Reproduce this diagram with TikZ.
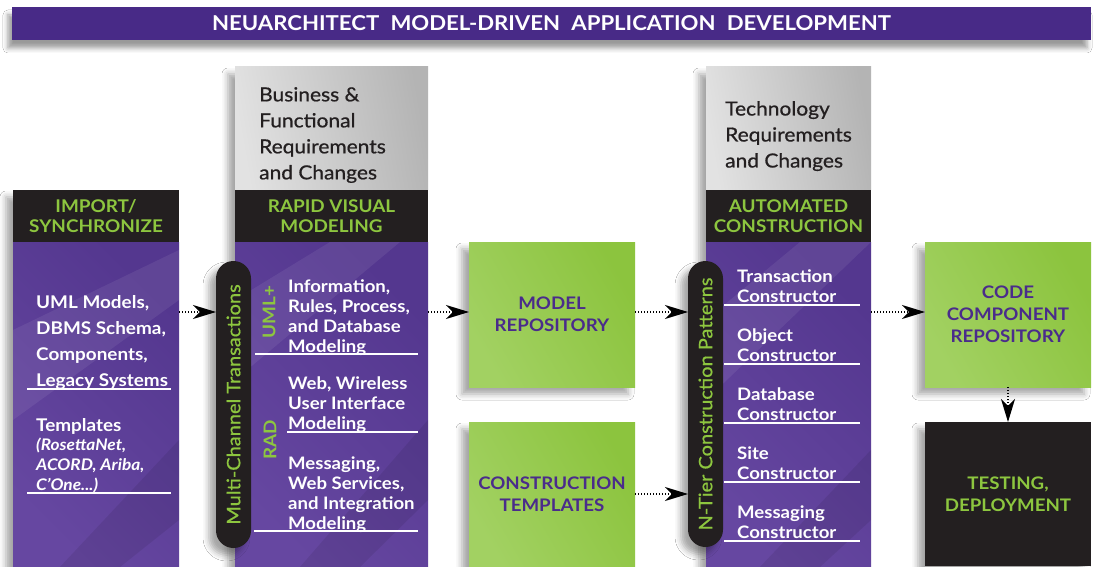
\documentclass[tikz,border=0pt]{standalone}
\usepackage{fontspec}
\setmainfont{Lato}[FakeStretch=1.08]
\newfontfamily\latomed{Lato}[FakeStretch=1.08,FakeBold=0.7]
\usetikzlibrary{arrows.meta,shadows.blur}
\definecolor{ttlpurple}{HTML}{482A87}
\definecolor{purpA}{HTML}{6647A1}
\definecolor{purpB}{HTML}{54378F}
\definecolor{hdblack}{HTML}{231F20}
\definecolor{lgreen}{HTML}{8DC63F}
\definecolor{greenA}{HTML}{A2D162}
\definecolor{greenB}{HTML}{8CC43E}
\definecolor{txtpurple}{HTML}{4A2C8B}
\definecolor{grayA}{HTML}{E2E2E2}
\definecolor{grayB}{HTML}{B4B4B4}
\tikzset{
  box/.style={rectangle,inner sep=0pt,outer sep=0pt,anchor=north west,align=center},
  headbox/.style={box,fill=hdblack,text=lgreen,font=\fontsize{17.5}{20.5}\selectfont\bfseries},
  bodybox/.style={box,left color=purpA,right color=purpB,shading angle=135},
  greybox/.style={box,left color=grayA,right color=grayB,shading angle=100},
  greenbox/.style={box,left color=greenA,right color=greenB,shading angle=120,text=txtpurple,
    font=\fontsize{17.3}{22}\selectfont\bfseries,dropsh},
  blackbox/.style={box,fill=hdblack,text=lgreen,font=\fontsize{17.3}{22}\selectfont\bfseries,dropsh},
  dropsh/.style={blur shadow={shadow xshift=-7pt,shadow yshift=-7pt,shadow blur radius=6pt,shadow opacity=35}},
  titlesh/.style={blur shadow={shadow xshift=-4pt,shadow yshift=-8pt,shadow blur radius=5pt,shadow opacity=40}},
  pill/.style={rectangle,anchor=north west,inner sep=0pt,outer sep=0pt,rounded corners=17.5pt,fill=hdblack,dropsh},
  pilltext/.style={text=lgreen,inner sep=0pt,font=\fontsize{18.5}{20}\latomed},
  sidelbl/.style={text=lgreen,inner sep=0pt,font=\fontsize{17.5}{20}\selectfont\bfseries},
  wtxtA/.style={text=white,inner sep=0pt,anchor=north west,align=left,font=\fontsize{17.5}{26}\selectfont\bfseries},
  wtxtI/.style={text=white,inner sep=0pt,anchor=north west,align=left,font=\fontsize{16}{20}\selectfont\bfseries\itshape},
  wtxtB/.style={text=white,inner sep=0pt,anchor=north west,align=left,font=\fontsize{17.2}{20}\selectfont\bfseries},
  gtxt/.style={text=hdblack,inner sep=0pt,anchor=north west,align=left,font=\fontsize{19.4}{26}\latomed},
  uline/.style={white,line width=1.3pt},
  lightband/.style={white,opacity=0.07},
  darkband/.style={black,opacity=0.08},
  conn/.style={draw=black,line width=1.5pt,dash pattern=on 1.2pt off 1.8pt,
    -{Stealth[length=23pt,width=14pt,inset=7pt]}},
}
\begin{document}
\begin{tikzpicture}[x=1pt,y=-1pt]
\useasboundingbox (0,0) rectangle (1096,567);
\fill[white] (0,0) rectangle (1096,567);

% title
\node[box,fill=ttlpurple,minimum width=1079pt,minimum height=33pt,text=white,
  font=\fontsize{20.5}{24}\selectfont\bfseries,titlesh] (title) at (12,7)
  {NEUARCHITECT\hspace{.55em}MODEL-DRIVEN\hspace{.55em}APPLICATION\hspace{.55em}DEVELOPMENT};

% column shadows
\fill[white,dropsh] (13,190) rectangle (179,567);
\fill[white,dropsh] (235,67) rectangle (428,567);
\fill[white,dropsh] (706,67) rectangle (871,567);

% left column
\node[headbox,minimum width=166pt,minimum height=52pt] (imphead) at (13,190) {IMPORT/\\SYNCHRONIZE};
\node[bodybox,minimum width=166pt,minimum height=325pt] (impbody) at (13,242) {};

% rapid visual modeling column
\node[greybox,minimum width=193pt,minimum height=123pt] (bizreq) at (235,67) {};
\node[headbox,minimum width=193pt,minimum height=52pt] (rapidhead) at (235,190) {RAPID VISUAL\\MODELING};
\node[bodybox,minimum width=193pt,minimum height=325pt] (rapidbody) at (235,242) {};

% automated construction column
\node[greybox,minimum width=165pt,minimum height=123pt] (techreq) at (706,67) {};
\node[headbox,minimum width=165pt,minimum height=52pt] (autohead) at (706,190) {AUTOMATED\\CONSTRUCTION};
\node[bodybox,minimum width=165pt,minimum height=325pt] (autobody) at (706,242) {};

% subtle diagonal texture in the purple bodies
\begin{scope}
  \clip (impbody.north west) rectangle (impbody.south east);
  \fill[lightband] (13,330) -- (179,250) -- (179,300) -- (13,420) -- cycle;
  \fill[darkband] (60,567) -- (179,440) -- (179,520) -- (120,567) -- cycle;
\end{scope}
\begin{scope}
  \clip (rapidbody.north west) rectangle (rapidbody.south east);
  \fill[lightband] (235,300) -- (330,242) -- (400,242) -- (235,380) -- cycle;
  \fill[darkband] (300,567) -- (428,420) -- (428,500) -- (360,567) -- cycle;
\end{scope}
\begin{scope}
  \clip (autobody.north west) rectangle (autobody.south east);
  \fill[lightband] (706,320) -- (800,242) -- (871,242) -- (706,400) -- cycle;
  \fill[darkband] (760,567) -- (871,450) -- (871,520) -- (820,567) -- cycle;
\end{scope}

% green / black boxes
\node[greenbox,minimum width=166pt,minimum height=145pt] (modrepo) at (469,242) {MODEL\\REPOSITORY};
\node[greenbox,minimum width=166pt,minimum height=145pt] (ctemp) at (469,422) {CONSTRUCTION\\TEMPLATES};
\node[greenbox,minimum width=166pt,minimum height=145pt] (coderepo) at (925,242) {CODE\\COMPONENT\\REPOSITORY};
\node[blackbox,minimum width=166pt,minimum height=144pt] (testing) at (925,422) {TESTING,\\DEPLOYMENT};

% grey requirement texts
\node[gtxt] (biztxt) at (259,87) {Business \&\\Functional\\Requirements\\and Changes};
\node[gtxt] (techtxt) at (725,101) {Technology\\Requirements\\and Changes};

% left column texts
\node[wtxtA] (impA) at (36,295) {UML Models,\\DBMS Schema,\\Components,\\Legacy Systems};
\draw[uline] (27,389) -- (171,389);
\node[wtxtA] (impB) at (36,418) {Templates};
\node[wtxtI] (impC) at (36,438) {(RosettaNet,\\ACORD, Ariba,\\C’One...)};
\draw[uline] (27,493) -- (171,493);

% rapid texts
\node[wtxtB] (rapA) at (288,280) {Information,\\Rules, Process,\\and Database\\Modeling};
\draw[uline] (255,354) -- (418,354);
\node[wtxtB] (rapB) at (288,377) {Web, Wireless\\User Interface\\Modeling};
\draw[uline] (287,432) -- (418,432);
\node[wtxtB] (rapC) at (288,457) {Messaging,\\Web Services,\\and Integration\\Modeling};
\draw[uline] (254,531) -- (418,531);
\node[sidelbl,rotate=90] (umlp) at (269,312) {UML+};
\node[sidelbl,rotate=90] (rad) at (270,440) {RAD};

% automated texts
\node[wtxtB] (autA) at (737,270) {Transaction\\Constructor};
\draw[uline] (724,305) -- (860,305);
\node[wtxtB] (autB) at (737,329) {Object\\Constructor};
\draw[uline] (724,364) -- (860,364);
\node[wtxtB] (autC) at (737,388) {Database\\Constructor};
\draw[uline] (724,423) -- (860,423);
\node[wtxtB] (autD) at (737,447) {Site\\Constructor};
\draw[uline] (724,482) -- (860,482);
\node[wtxtB] (autE) at (737,506) {Messaging\\Constructor};
\draw[uline] (724,541) -- (860,541);

% pills
\node[pill,minimum width=35pt,minimum height=287pt] (mct) at (216,261) {};
\node[pilltext,rotate=90] (mcttxt) at (mct.center) {Multi-Channel Transactions};
\node[pill,minimum width=35pt,minimum height=286pt] (ntier) at (688,261) {};
\node[pilltext,rotate=90] (ntiertxt) at (ntier.center) {N-Tier Construction Patterns};

% connectors
\coordinate (yA) at (0,312);
\coordinate (yB) at (0,494);
\coordinate (xC) at (1008,0);
\draw[conn] (impbody.east |- yA) -- (mct.west |- yA);
\draw[conn] (rapidbody.east |- yA) -- (modrepo.west |- yA);
\draw[conn] (modrepo.east |- yA) -- (ntier.west |- yA);
\draw[conn] (ctemp.east |- yB) -- (ntier.west |- yB);
\draw[conn] (autobody.east |- yA) -- (coderepo.west |- yA);
\draw[conn] (coderepo.south -| xC) -- (testing.north -| xC);
\end{tikzpicture}
\end{document}
